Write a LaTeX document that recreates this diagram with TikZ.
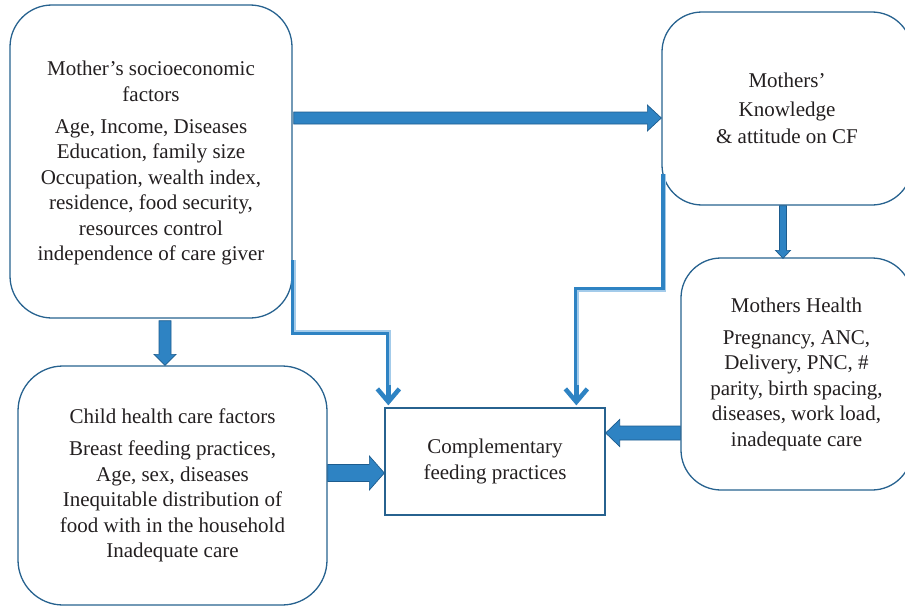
\documentclass[tikz,border=0pt]{standalone}
\usepackage{fontspec}
\setmainfont{Liberation Serif}
\usepackage{tikz}
\usetikzlibrary{calc,arrows.meta}

\definecolor{boxline}{HTML}{27628F}
\definecolor{ink}{HTML}{231F20}
\definecolor{arrowblue}{HTML}{2E83C3}
\definecolor{arrowdark}{HTML}{1D5C8E}
\definecolor{arrowlight}{HTML}{A3CBEA}

\tikzset{
	fat/.style n args={3}{to path={
		($(\tikztotarget)!#3!(\tikztostart)$) coordinate (hb)
		($(\tikztostart)!#1!90:(\tikztotarget)$)
		-- ($(hb)!#1!90:(\tikztotarget)$)
		-- ($(hb)!#2!90:(\tikztotarget)$)
		-- (\tikztotarget)
		-- ($(hb)!#2!-90:(\tikztotarget)$)
		-- ($(hb)!#1!-90:(\tikztotarget)$)
		-- ($(\tikztostart)!#1!-90:(\tikztotarget)$) -- cycle}},
}

\begin{document}
\begin{tikzpicture}[x=1pt,y=-1pt,
		box/.style={draw=boxline,line width=1.3pt,rounded corners=42pt,align=center,
			inner sep=0pt,text=ink,font=\fontsize{21}{25.5}\selectfont},
		fatarrow/.style={draw=arrowdark,fill=arrowblue,line width=0.7pt,line join=miter},
		elbow/.style={draw=arrowblue,line width=4.8pt,
			-{Straight Barb[length=13pt,width=22pt,line width=4.5pt]}},
		shine/.style={draw=arrowlight,line width=1.5pt}]
		\useasboundingbox (0,0) rectangle (905,610);
		\node[box,minimum width=282,minimum height=313] (soc) at (151,161.5)
			{Mother’s socioeconomic\\ factors\\[6.5pt] Age, Income, Diseases\\ Education, family size\\
			Occupation, wealth index,\\ residence, food security,\\ resources control\\
			independence of care giver\\[-24pt]\mbox{}};
		\node[box,minimum width=250,minimum height=193,rounded corners=40pt] (know) at (787,108.5)
			{Mothers’\\[3pt] Knowledge\\[2pt] \& attitude on CF};
		\node[box,minimum width=231,minimum height=232,rounded corners=40pt] (mhealth) at (796.5,374)
			{Mothers Health\\[6.5pt] Pregnancy, ANC,\\ Delivery, PNC, \#\\ parity, birth spacing,\\
			diseases, work load,\\ inadequate care};
		\node[box,minimum width=309,minimum height=239,rounded corners=45pt] (child) at (172.5,485.5)
			{Child health care factors\\[6.5pt] Breast feeding practices,\\ Age, sex, diseases\\
			Inequitable distribution of\\ food with in the household\\ Inadequate care};
		\node[box,sharp corners,minimum width=220,minimum height=107] (cf) at (495,461.5)
			{Complementary\\ feeding practices};
		% block arrows
		\draw[fatarrow] ($(soc.east)+(1,-43.5)$) to[fat={6pt}{13pt}{14pt}] ($(know.west)+(0,9.5)$);
		\draw[fatarrow] ($(soc.south)+(14,2)$) to[fat={6pt}{11pt}{11pt}] ($(child.north)+(-7.5,0)$);
		\draw[fatarrow] ($(know.south)+(-4,0)$) to[fat={3.5pt}{7.5pt}{8pt}] ($(mhealth.north)+(-13.5,1)$);
		\draw[fatarrow] ($(child.east)+(0,-12.5)$) to[fat={8.5pt}{17pt}{15pt}] ($(cf.west)+(0,11.5)$);
		\draw[fatarrow] ($(mhealth.west)+(0,59)$) to[fat={7pt}{13.5pt}{14pt}] ($(cf.east)+(0,-28.5)$);
		% elbow connectors
		\draw[elbow] ($(soc.east)+(1,98.5)$) |- ($(cf.north west)+(4,-75)$) -- ($(cf.north west)+(4,-2)$);
		\draw[shine] ($(soc.east)+(2.5,98.5)$) |- ($(cf.north west)+(5.5,-76.5)$) -- ($(cf.north west)+(5.5,-22)$);
		\draw[elbow] ($(know.west)+(2.5,65.5)$) |- ($(cf.north west)+(192,-118)$) -- ($(cf.north west)+(192,-2)$);
		\draw[shine] ($(know.west)+(4,65.5)$) |- ($(cf.north west)+(193.5,-116.5)$) -- ($(cf.north west)+(193.5,-22)$);
\end{tikzpicture}
\end{document}
